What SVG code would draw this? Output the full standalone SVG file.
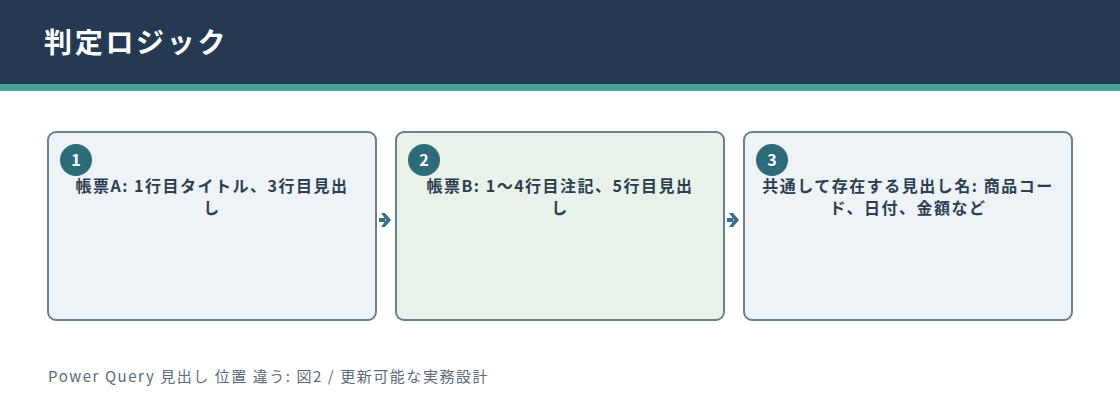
<svg xmlns="http://www.w3.org/2000/svg" width="1120" height="420" viewBox="0 0 1120 420">
<defs>
<style>
.box{stroke:#6b7f8f;stroke-width:2}
.b1{fill:#eef3f8}
.b2{fill:#e8f2e8}
.badge{fill:#2e6b78}
.num{font-family:"Noto Sans CJK JP","Noto Sans",sans-serif;font-size:16px;font-weight:700;fill:#ffffff;text-anchor:middle}
.lbl{font-family:"Noto Sans CJK JP","Noto Sans",sans-serif;font-size:16px;font-weight:700;fill:#2d3e50;text-anchor:middle;letter-spacing:1.5px}
.conn{stroke:#3d6d8a;stroke-width:4;fill:none}
</style>
<marker id="arr" viewBox="0 0 10 16" refX="4" refY="8" markerWidth="10" markerHeight="16" markerUnits="userSpaceOnUse" orient="auto">
<path d="M0,1 L4,1 L10,8 L4,15 L0,15 L5,8 Z" fill="#3d6d8a"/>
</marker>
</defs>
<rect x="0" y="0" width="1120" height="420" fill="#ffffff"/>
<rect x="0" y="0" width="1120" height="84" fill="#253a52"/>
<rect x="0" y="84" width="1120" height="7" fill="#47a39a"/>
<text x="44" y="53" font-family="'Noto Sans CJK JP','Noto Sans',sans-serif" font-size="28" font-weight="700" fill="#ffffff" letter-spacing="2.7">判定ロジック</text>
<g id="connectors">
<path d="M379,220 L385,220" class="conn" marker-end="url(#arr)"/>
<path d="M727,220 L733,220" class="conn" marker-end="url(#arr)"/>
</g>
<g id="node1">
<rect x="48" y="132" width="328" height="188" rx="8" class="box b1"/>
<circle cx="76" cy="160" r="16" class="badge"/>
<text x="76" y="166" class="num">1</text>
<text x="212" y="192" class="lbl">帳票A: 1行目タイトル、3行目見出</text>
<text x="212" y="214" class="lbl">し</text>
</g>
<g id="node2">
<rect x="396" y="132" width="328" height="188" rx="8" class="box b2"/>
<circle cx="424" cy="160" r="16" class="badge"/>
<text x="424" y="166" class="num">2</text>
<text x="560" y="192" class="lbl">帳票B: 1～4行目注記、5行目見出</text>
<text x="560" y="214" class="lbl">し</text>
</g>
<g id="node3">
<rect x="744" y="132" width="328" height="188" rx="8" class="box b1"/>
<circle cx="772" cy="160" r="16" class="badge"/>
<text x="772" y="166" class="num">3</text>
<text x="908" y="192" class="lbl">共通して存在する見出し名: 商品コー</text>
<text x="908" y="214" class="lbl">ド、日付、金額など</text>
</g>
<text x="48" y="382" font-family="'Noto Sans CJK JP','Noto Sans',sans-serif" font-size="15" fill="#5b6b7a" letter-spacing="1.55">Power Query 見出し 位置 違う: 図2 / 更新可能な実務設計</text>
</svg>
